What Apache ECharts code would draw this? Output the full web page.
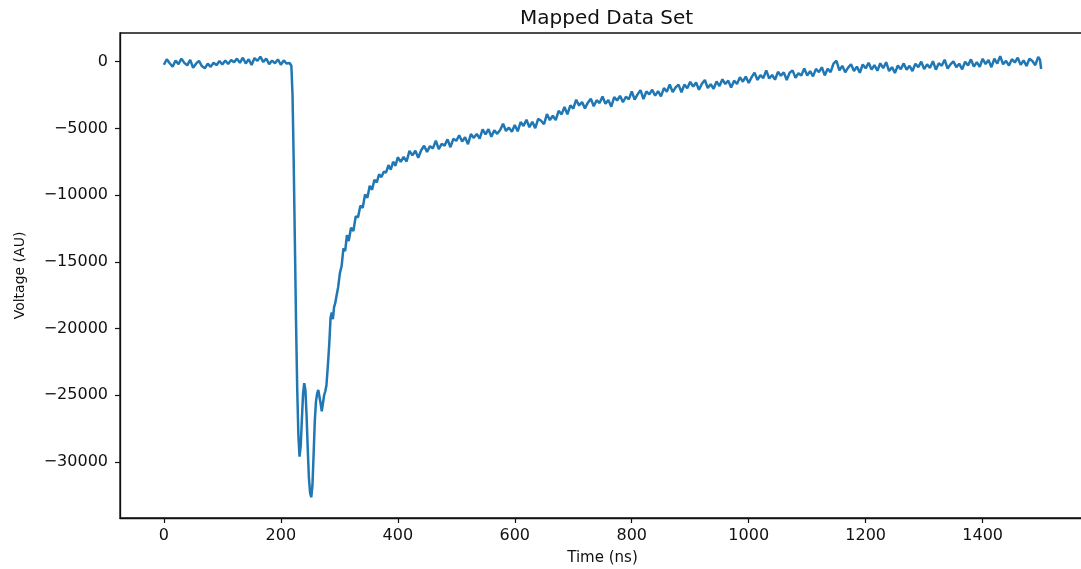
<!DOCTYPE html>
<html><head><meta charset="utf-8">
<script src="https://cdn.jsdelivr.net/npm/echarts@6/dist/echarts.min.js"></script>
<style>html,body{margin:0;padding:0;background:#fff}#c{width:1081px;height:569px}</style>
</head><body><div id="c"></div><script>
// ---- data ----
const baseTimes = [0,5,10,15,20,25,30,35,40,45,50,55,60,65,70,75,80,85,90,95,100,105,110,115,120,125,130,135,140,145,150,155,160,165,170,175,180,185,190,195,200,205,210,215];
const baseVolts = [-230,180,-120,-380,90,-180,230,-90,-270,140,-450,-150,60,-330,-500,-140,-390,-80,-260,50,-210,90,-170,120,-50,230,-90,300,-140,180,-240,270,60,380,-30,240,-180,80,-120,170,-230,90,-140,-100];

const pulseTimes = [218,220,222,224,226,228,230,232,234,236,238,240,242,244,246,248,250,252,254,256,258,260,262,264,266,268,270,272,274,276,278,
  281,283,285,287,289,291,293,295,298,301,304,307,310,313,316,320,324,328,332,336,340,344,348,352,356,360,364,368,372,376,380,384,388,392,396];
const pulseVolts = [-300,-2500,-7500,-13500,-19500,-24500,-28000,-29600,-28800,-26800,-24900,-24100,-24600,-26500,-29000,-31200,-32300,-32650,-31800,-29500,-27000,-25500,-24900,-24600,-24700,-25600,-26200,-25600,-25000,-24700,-24250,
  -22400,-21000,-19200,-18800,-19300,-18400,-18100,-17600,-16900,-15850,-15300,-14000,-14200,-13000,-13450,-12450,-12700,-11600,-11650,-10800,-10950,-9950,-10200,-9300,-9600,-8850,-9050,-8450,-8650,-8250,-8300,-7750,-8100,-7500,-7800];

const tailTimes = [
  400,405,410,415,420,425,430,435,440,445,
  450,455,460,465,470,475,480,485,490,495,
  500,505,510,515,520,525,530,535,540,545,
  550,555,560,565,570,575,580,585,590,595,
  600,605,610,615,620,625,630,635,640,645,
  650,655,660,665,670,675,680,685,690,695,
  700,705,710,715,720,725,730,735,740,745,
  750,755,760,765,770,775,780,785,790,795,
  800,805,810,815,820,825,830,835,840,845,
  850,855,860,865,870,875,880,885,890,895,
  900,905,910,915,920,925,930,935,940,945,
  950,955,960,965,970,975,980,985,990,995,
  1000,1005,1010,1015,1020,1025,1030,1035,1040,1045,
  1050,1055,1060,1065,1070,1075,1080,1085,1090,1095,
  1100,1105,1110,1115,1120,1125,1130,1135,1140,1145,
  1150,1155,1160,1165,1170,1175,1180,1185,1190,1195,
  1200,1205,1210,1215,1220,1225,1230,1235,1240,1245,
  1250,1255,1260,1265,1270,1275,1280,1285,1290,1295,
  1300,1305,1310,1315,1320,1325,1330,1335,1340,1345,
  1350,1355,1360,1365,1370,1375,1380,1385,1390,1395,
  1400,1405,1410,1415,1420,1425,1430,1435,1440,1445,
  1450,1455,1460,1465,1470,1475,1480,1485,1490,1495,
  1498,1500];
const tailVolts = [
  -7160,-7510,-7130,-7480,-6680,-7020,-6670,-7200,-6640,-6300,
  -6760,-6330,-6500,-5920,-6560,-6160,-6290,-5820,-6410,-5780,
  -5930,-5510,-5980,-5670,-6180,-5430,-5710,-5410,-5760,-5070,
  -5450,-5060,-5620,-5140,-5410,-5120,-4650,-5190,-4940,-5250,
  -4740,-5220,-4530,-4810,-4350,-4910,-4500,-4980,-4290,-4430,
  -4690,-3930,-4380,-4050,-4380,-3680,-3950,-3400,-3950,-3270,
  -3520,-2850,-3290,-3020,-3500,-3070,-2770,-3340,-2890,-3100,
  -2610,-3150,-2880,-3370,-2660,-2910,-2560,-3040,-2630,-2820,
  -2220,-2850,-2450,-2130,-2810,-2230,-2450,-2100,-2550,-2200,
  -2600,-1980,-2250,-1710,-2280,-1930,-1720,-2290,-1720,-1990,
  -1510,-1870,-1560,-2100,-1650,-1370,-1970,-1690,-2030,-1480,
  -1830,-1320,-1670,-1420,-1930,-1420,-1670,-1160,-1500,-1120,
  -1600,-1160,-820,-1370,-1000,-1230,-650,-1260,-1000,-1350,
  -760,-1050,-800,-1370,-830,-650,-1200,-870,-1030,-500,
  -1030,-710,-1100,-540,-790,-420,-1030,-530,-780,-140,
  70,-650,-310,-790,-440,-190,-700,-370,-830,-210,
  -500,-80,-590,-260,-680,-120,-490,-40,-700,-410,
  -850,-290,-570,-130,-610,-310,-700,-150,-410,0,
  -560,-200,-460,40,-600,-110,-310,150,-510,-200,
  20,-410,-150,-580,0,-280,170,-370,-30,-390,
  220,-180,120,-410,220,-140,420,-190,60,-290,
  190,-60,300,-240,100,-320,220,50,-260,350,
  150,-550];

const xTicks = [0,200,400,600,800,1000,1200,1400];
const yTicks = [-30000,-25000,-20000,-15000,-10000,-5000,0];

// ---- build series ----
const seriesData = [];
[[baseTimes, baseVolts],[pulseTimes, pulseVolts],[tailTimes, tailVolts]].forEach(([ts, vs]) => {
  for (let i = 0; i < Math.min(ts.length, vs.length); i++) seriesData.push([ts[i], vs[i]]);
});

const FONT = 'DejaVu Sans';
const INK = '#111';
const chart = echarts.init(document.getElementById('c'), null, {renderer: 'canvas'});
chart.setOption({
  animation: false,
  backgroundColor: '#ffffff',
  title: {
    text: 'Mapped Data Set', left: 515, top: 4,
    textStyle: {fontFamily: FONT, fontSize: 20, fontWeight: 'normal', color: INK}
  },
  grid: {
    left: 120, top: 33, width: 965, height: 485,
    show: true, borderColor: INK, borderWidth: 1.3, backgroundColor: 'transparent',
    containLabel: false, outerBoundsMode: 'none'
  },
  xAxis: {
    type: 'value', min: -75, max: 1575,
    name: 'Time (ns)', nameLocation: 'middle', nameGap: 33,
    nameTextStyle: {fontFamily: FONT, fontSize: 15, color: INK},
    axisLine: {show: true, onZero: false, lineStyle: {color: INK, width: 1.3}},
    splitLine: {show: false},
    axisTick: {show: true, length: 5, lineStyle: {color: INK, width: 1.2}, customValues: xTicks},
    axisLabel: {customValues: xTicks, margin: 10, fontFamily: FONT, fontSize: 16, color: INK,
      formatter: v => String(v)}
  },
  yAxis: {
    type: 'value', min: -34200, max: 2150,
    name: 'Voltage (AU)', nameLocation: 'middle', nameGap: 93, nameRotate: 90,
    nameTextStyle: {fontFamily: FONT, fontSize: 14, color: INK},
    axisLine: {show: true, onZero: false, lineStyle: {color: INK, width: 1.3}},
    splitLine: {show: false},
    axisTick: {show: true, length: 5, lineStyle: {color: INK, width: 1.2}, customValues: yTicks},
    axisLabel: {
      customValues: yTicks, margin: 12, fontFamily: FONT, fontSize: 16, color: INK,
      formatter: v => String(v).replace('-', '\u2212')
    }
  },
  series: [{
    type: 'line', data: seriesData, showSymbol: false, symbol: 'none',
    lineStyle: {color: '#1f77b4', width: 2.5}, clip: true
  }]
});
</script></body></html>
